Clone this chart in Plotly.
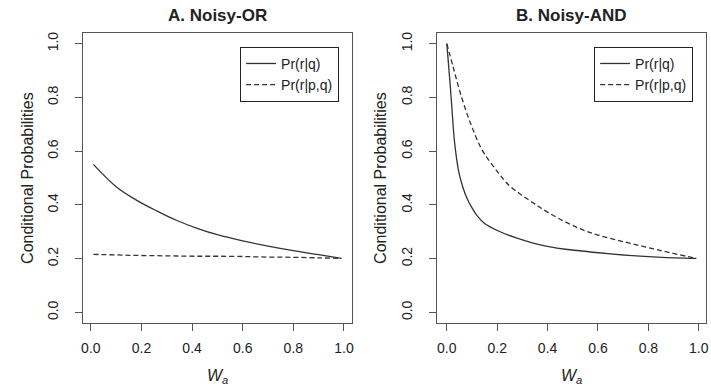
import plotly.graph_objects as go

# ---- data ----
or_w = [0.01, 0.10, 0.18, 0.26, 0.34, 0.42, 0.50, 0.60, 0.70, 0.80, 0.90, 0.99]
or_q = [0.551, 0.468, 0.418, 0.378, 0.342, 0.313, 0.289, 0.266, 0.247, 0.230, 0.215, 0.201]
or_pq = [0.216, 0.214, 0.212, 0.211, 0.210, 0.209, 0.209, 0.208, 0.206, 0.205, 0.203, 0.201]

and_w_q = [0.0, 0.014, 0.021, 0.03, 0.047, 0.065, 0.08, 0.10, 0.12, 0.15, 0.207, 0.273, 0.339,
           0.405, 0.471, 0.603, 0.722, 0.854, 0.99]
and_q = [1.0, 0.84, 0.75, 0.64, 0.525, 0.462, 0.425, 0.389, 0.360, 0.331, 0.302, 0.278, 0.259,
         0.245, 0.235, 0.222, 0.212, 0.205, 0.201]
and_w_pq = [0.0, 0.025, 0.054, 0.094, 0.14, 0.20, 0.25, 0.30, 0.35, 0.40, 0.47, 0.54, 0.60, 0.72, 0.85, 0.99]
and_pq = [1.0, 0.914, 0.815, 0.704, 0.605, 0.525, 0.47, 0.435, 0.403, 0.373, 0.337, 0.307, 0.288,
          0.259, 0.23, 0.201]

tick_vals = [0.0, 0.2, 0.4, 0.6, 0.8, 1.0]
tick_text = ["0.0", "0.2", "0.4", "0.6", "0.8", "1.0"]
panel_titles = ["A. Noisy-OR", "B. Noisy-AND"]
series_names = ["Pr(r|q)", "Pr(r|p,q)"]
y_title = "Conditional Probabilities"
x_title = "<i>W</i><sub><i>a</i></sub>"

W, H = 711, 387
FONT = "Liberation Sans, Arial, sans-serif"
INK = "#222222"
LINE = "#333333"
FRAME = "#555555"

fig = go.Figure()
solid = dict(color=LINE, width=1.3)
dashed = dict(color=LINE, width=1.3, dash="5px,3px")

fig.add_trace(go.Scatter(x=or_w, y=or_q, mode="lines", line=dict(shape="spline", smoothing=1.0, **solid),
                         name=series_names[0], xaxis="x", yaxis="y", legend="legend"))
fig.add_trace(go.Scatter(x=or_w, y=or_pq, mode="lines", line=dict(shape="spline", **dashed),
                         name=series_names[1], xaxis="x", yaxis="y", legend="legend"))
fig.add_trace(go.Scatter(x=and_w_q, y=and_q, mode="lines", line=dict(shape="spline", smoothing=0.8, **solid),
                         name=series_names[0], xaxis="x2", yaxis="y2", legend="legend2"))
fig.add_trace(go.Scatter(x=and_w_pq, y=and_pq, mode="lines", line=dict(shape="spline", smoothing=1.0, **dashed),
                         name=series_names[1], xaxis="x2", yaxis="y2", legend="legend2"))

ydom = [1 - 323 / H, 1 - 32 / H]
common = dict(showline=True, mirror=True, linecolor=FRAME, linewidth=1,
              ticks="outside", ticklen=7, tickcolor=FRAME, tickwidth=1,
              showgrid=False, zeroline=False, tickvals=tick_vals, ticktext=tick_text,
              tickfont=dict(family=FONT, size=14, color=INK), fixedrange=True)

fig.update_layout(
    width=W, height=H,
    margin=dict(l=0, r=0, t=0, b=0),
    paper_bgcolor="white", plot_bgcolor="white",
    xaxis=dict(domain=[81.7 / W, 352.3 / W], range=[-0.030, 1.033], anchor="y",
               ticklabelstandoff=5, **common),
    yaxis=dict(domain=ydom, range=[-0.04, 1.04], anchor="x", tickangle=-90,
               ticklabelstandoff=12, **common),
    xaxis2=dict(domain=[437.7 / W, 708.3 / W], range=[-0.038, 1.030], anchor="y2",
                ticklabelstandoff=5, **common),
    yaxis2=dict(domain=ydom, range=[-0.04, 1.04], anchor="x2", tickangle=-90,
                ticklabelstandoff=12, **common),
    legend=dict(x=339 / W, y=1 - 46 / H, xanchor="right", yanchor="top",
                bordercolor=INK, borderwidth=1, bgcolor="white",
                font=dict(family=FONT, size=14, color=INK), tracegroupgap=0),
    legend2=dict(x=695 / W, y=1 - 46 / H, xanchor="right", yanchor="top",
                 bordercolor=INK, borderwidth=1, bgcolor="white",
                 font=dict(family=FONT, size=14, color=INK), tracegroupgap=0),
    showlegend=True,
)

centers = [(81.7 + 352.3) / 2 / W, (437.7 + 708.3) / 2 / W]
for cx, t in zip(centers, panel_titles):
    fig.add_annotation(x=cx, y=1 - 15 / H, xref="paper", yref="paper", text="<b>%s</b>" % t,
                       showarrow=False, xanchor="center", yanchor="middle",
                       font=dict(family=FONT, size=17, color=INK))
    fig.add_annotation(x=cx, y=1 - 376 / H, xref="paper", yref="paper", text=x_title,
                       showarrow=False, xanchor="center", yanchor="middle",
                       font=dict(family=FONT, size=16, color=INK))
for yx in [25 / W, 380 / W]:
    fig.add_annotation(x=yx, y=1 - 177.5 / H, xref="paper", yref="paper", text=y_title,
                       textangle=-90, showarrow=False, xanchor="center", yanchor="middle",
                       font=dict(family=FONT, size=16, color=INK))

fig.write_html("out.html", config={"displayModeBar": False},
               post_script="document.body.style.margin='0px';")
